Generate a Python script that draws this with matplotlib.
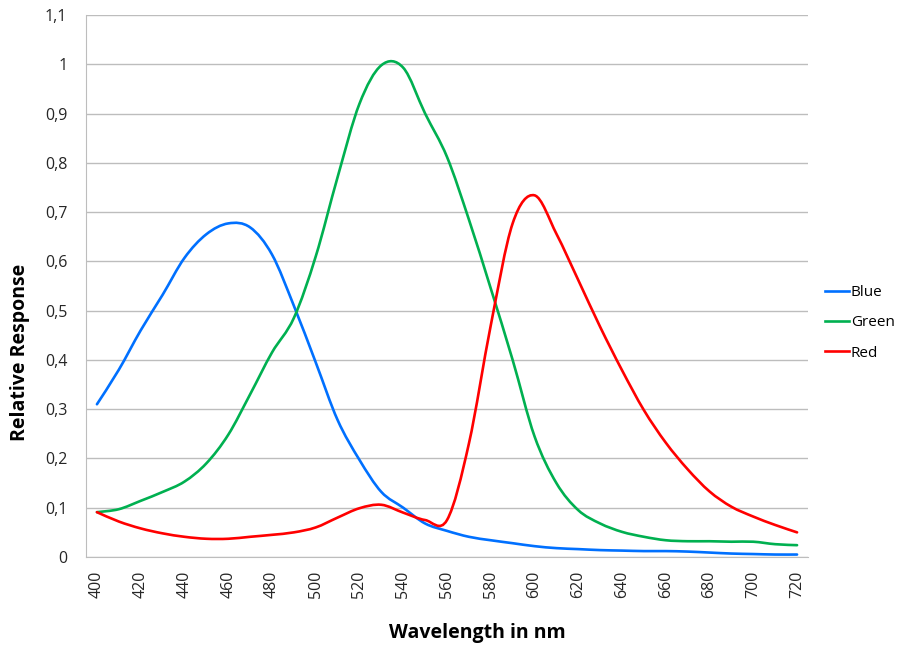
import matplotlib
matplotlib.use("Agg")
import matplotlib.pyplot as plt
import numpy as np
from matplotlib.path import Path
from matplotlib.patches import PathPatch
from matplotlib.lines import Line2D

wavelength = list(range(400, 721, 10))
blue = [0.31, 0.38, 0.46, 0.532, 0.607, 0.655, 0.677, 0.669, 0.614, 0.51, 0.395,
        0.278, 0.197, 0.132, 0.100, 0.068, 0.053, 0.041, 0.034, 0.028, 0.022,
        0.018, 0.016, 0.014, 0.013, 0.012, 0.012, 0.011, 0.009, 0.007, 0.006,
        0.005, 0.005]
green = [0.091, 0.097, 0.114, 0.132, 0.153, 0.19, 0.248, 0.33, 0.415, 0.485,
         0.61, 0.771, 0.92, 0.998, 0.993, 0.9, 0.812, 0.685, 0.545, 0.40,
         0.245, 0.15, 0.095, 0.068, 0.051, 0.041, 0.034, 0.032, 0.032, 0.031,
         0.031, 0.026, 0.024]
red = [0.091, 0.072, 0.058, 0.048, 0.041, 0.037, 0.037, 0.041, 0.045, 0.05,
       0.06, 0.08, 0.099, 0.106, 0.09, 0.075, 0.075, 0.23, 0.47, 0.677, 0.734,
       0.656, 0.562, 0.467, 0.379, 0.298, 0.232, 0.178, 0.133, 0.102, 0.082,
       0.065, 0.05]

series_names = ["Blue", "Green", "Red"]
series_colors = ["#0070FF", "#00B050", "#FF0000"]
ytick_vals = [round(0.1 * i, 1) for i in range(12)]
ytick_labels = ["0", "0,1", "0,2", "0,3", "0,4", "0,5", "0,6", "0,7", "0,8",
                "0,9", "1", "1,1"]
xtick_vals = list(range(400, 721, 20))

FONT = ["Open Sans", "DejaVu Sans"]
plt.rcParams['font.family'] = FONT


def smooth_path(xs, ys):
    pts = np.column_stack([xs, ys]).astype(float)
    n = len(pts)
    verts = [pts[0]]
    codes = [Path.MOVETO]
    for i in range(n - 1):
        p0 = pts[i - 1] if i > 0 else pts[i]
        p1 = pts[i]
        p2 = pts[i + 1]
        p3 = pts[i + 2] if i + 2 < n else pts[i + 1]
        c1 = p1 + (p2 - p0) / 6.0
        c2 = p2 - (p3 - p1) / 6.0
        verts += [c1, c2, p2]
        codes += [Path.CURVE4] * 3
    return Path(verts, codes)


fig = plt.figure(figsize=(9.12, 6.47), dpi=100)
ax = fig.add_axes([86 / 912, 1 - 557 / 647, (808 - 86) / 912, (557 - 15) / 647])

handles = []
for name, vals, col in zip(series_names, [blue, green, red], series_colors):
    patch = PathPatch(smooth_path(wavelength, vals), facecolor="none",
                      edgecolor=col, lw=1.9, zorder=3, capstyle="round")
    ax.add_patch(patch)
    handles.append(Line2D([], [], color=col, lw=1.9, label=name))

ax.set_xlim(395, 725)
ax.set_ylim(0, 1.1)
ax.set_yticks(ytick_vals)
ax.set_yticklabels(ytick_labels, fontsize=11.5, color="#262626")
ax.set_xticks(xtick_vals)
ax.set_xticklabels([str(v) for v in xtick_vals], rotation=90, fontsize=11.5,
                   color="#262626")
ax.tick_params(axis="y", length=0, pad=13.5)
ax.tick_params(axis="x", length=0, pad=9.5)

ax.grid(axis="y", color="#BDBDBD", lw=1.0)
ax.set_axisbelow(True)
for s in ["top", "right"]:
    ax.spines[s].set_visible(False)
ax.spines["left"].set_color("#BDBDBD")
ax.spines["bottom"].set_color("#BDBDBD")

fig.text(477.5 / 912, 1 - 633 / 647, "Wavelength in nm", fontsize=14,
         fontweight="bold", ha="center", va="center")
fig.text(20 / 912, 1 - 352 / 647, "Relative Response", fontsize=14,
         fontweight="bold", ha="center", va="center", rotation=90)

fig.legend(handles=handles, loc="center left", bbox_to_anchor=(811 / 912, 1 - 323 / 647),
           frameon=False, fontsize=11, handlelength=1.6, handletextpad=0.1,
           labelspacing=1.0)

fig.savefig("out.png", dpi=100)
